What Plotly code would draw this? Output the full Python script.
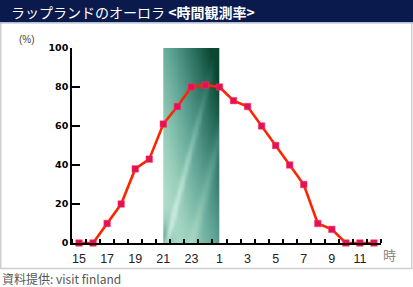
import numpy as np
import plotly.graph_objects as go

# ---- data ----
hours = [15, 16, 17, 18, 19, 20, 21, 22, 23, 0, 1, 2, 3, 4, 5, 6, 7, 8, 9, 10, 11, 12]
rate = [0, 0, 10, 20, 38, 43, 61, 70, 80, 81, 80, 73, 70, 60, 50, 40, 30, 10, 7, 0, 0, 0]
band_start_hour = 21
band_end_hour = 1
y_ticks = [0, 20, 40, 60, 80, 100]
title_text = "ラップランドのオーロラ <b>&lt;時間観測率&gt;</b>"
unit_text = "(%)"
hour_unit = "時"
source_text = "資料提供: visit finland"

idx = list(range(len(hours)))
label_idx = idx[::2]
label_txt = [str(hours[i]) for i in label_idx]

W, H = 413, 287
L, R, T, B = 72, 32, 48, 44
PW, PH = W - L - R, H - T - B


def xp(px):
    return (px - L) / PW


def yp(py):
    return (H - B - py) / PH


fig = go.Figure()

# gradient band (night window)
b0 = hours.index(band_start_hour)
b1 = hours.index(band_end_hour)
nx, ny = 40, 60
xe = np.linspace(b0, b1, nx + 1)
ye = np.linspace(0, 100, ny + 1)
u = (np.arange(nx) + 0.5) / nx
v = (np.arange(ny) + 0.5) / ny
U, V = np.meshgrid(u, v)
base = 0.6 * U + 0.5 * V
streak = np.exp(-((U - 0.9 * V - 0.05) / 0.05) ** 2) * (1 - V) + \
    0.35 * np.exp(-((U - 0.9 * V - 0.5) / 0.08) ** 2)
corner = np.exp(-((U / 0.15) ** 2 + (V / 0.12) ** 2))
z = np.clip(base - 0.35 * streak + 0.55 * corner, 0, 1)
fig.add_trace(go.Heatmap(
    x=xe, y=ye, z=z, zmin=0, zmax=1, zsmooth="best", showscale=False,
    hoverinfo="skip",
    colorscale=[[0, "#c6e8dc"], [0.3, "#96cdb9"], [0.55, "#62a697"],
                [0.8, "#2f7463"], [1, "#0a4632"]],
))

fig.add_trace(go.Scatter(
    x=idx, y=rate, mode="lines+markers",
    line=dict(color="#ff2400", width=2.6),
    marker=dict(symbol="square", size=6.5, color="#e3105c",
                line=dict(color="#ff3a4a", width=0.5)),
    cliponaxis=False, hoverinfo="skip",
))

shapes = [
    dict(type="rect", xref="paper", yref="paper", x0=xp(0.8), x1=xp(411.8),
         y0=yp(22), y1=yp(268.5), line=dict(color="#cfcfcf", width=1.5),
         fillcolor="rgba(0,0,0,0)", layer="below"),
    dict(type="rect", xref="paper", yref="paper", x0=xp(0), x1=xp(413),
         y0=yp(0), y1=yp(22), line=dict(width=0), fillcolor="#0b1a4c"),
    dict(type="line", xref="paper", yref="paper", x0=xp(0), x1=xp(413),
         y0=yp(22.8), y1=yp(22.8), line=dict(color="#a9b3cc", width=1.2)),
]

annotations = [
    dict(text=title_text, x=xp(9), y=yp(11.5), xref="paper", yref="paper",
         xanchor="left", yanchor="middle", showarrow=False,
         font=dict(family="Noto Sans CJK JP", size=14, color="white")),
    dict(text=unit_text, x=xp(27), y=yp(40), xref="paper", yref="paper",
         xanchor="center", yanchor="middle", showarrow=False,
         font=dict(family="Liberation Sans", size=10, color="#444")),
    dict(text=hour_unit, x=xp(389), y=yp(254), xref="paper", yref="paper",
         xanchor="center", yanchor="middle", showarrow=False,
         font=dict(family="Noto Sans CJK JP", size=13, color="#888")),
    dict(text=source_text, x=xp(0), y=yp(278), xref="paper", yref="paper",
         xanchor="left", yanchor="middle", showarrow=False,
         font=dict(family="Noto Sans CJK JP", size=12, color="#555")),
]

fig.update_layout(
    width=W, height=H, margin=dict(l=L, r=R, t=T, b=B, pad=0),
    paper_bgcolor="white", plot_bgcolor="white", showlegend=False,
    shapes=shapes, annotations=annotations,
    xaxis=dict(range=[-0.5, len(hours) - 0.5], showgrid=False, zeroline=False,
               showline=True, linecolor="black", linewidth=1.5,
               tickmode="array", tickvals=label_idx, ticktext=label_txt,
               ticks="", ticklabelstandoff=3,
               tickfont=dict(family="Liberation Sans", size=12.5, color="#222"),
               minor=dict(tickmode="linear", tick0=0.5, dtick=1, ticks="inside",
                          ticklen=4, tickwidth=1.5, tickcolor="black")),
    yaxis=dict(range=[0, 100], showgrid=False, zeroline=False,
               showline=True, linecolor="black", linewidth=1.5,
               tickmode="array", tickvals=y_ticks, ticks="inside", ticklen=8,
               tickwidth=1.5, tickcolor="black",
               tickfont=dict(family="DejaVu Sans", size=9.5, color="black", weight="bold")),
)

fig.write_html("out.html")
